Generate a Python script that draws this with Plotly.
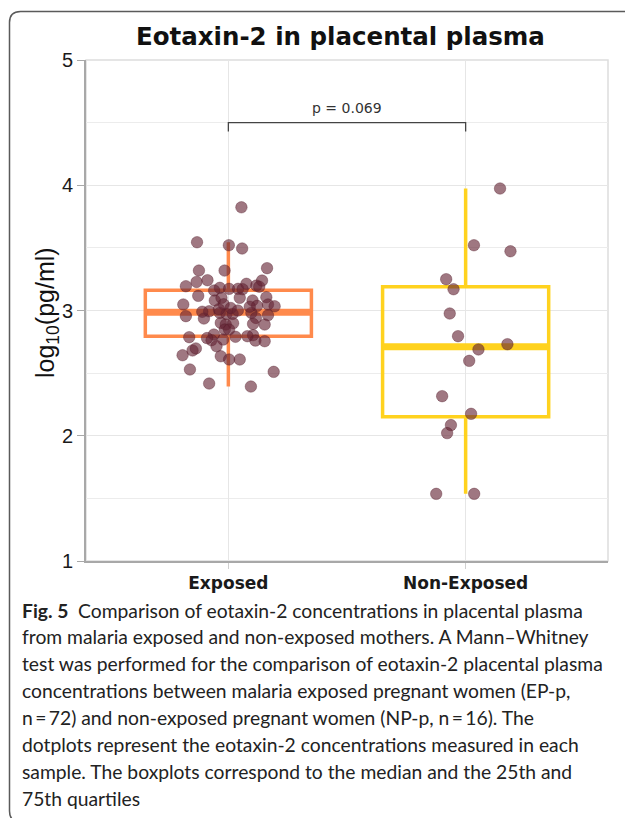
import numpy as np
import plotly.graph_objects as go

# ---------------- data ----------------
categories = ["Exposed", "Non-Exposed"]
category_pos = [0, 1]

exposed_values = [
    3.824, 3.545, 3.521, 3.495, 3.319, 3.319, 3.338, 3.194, 3.228, 3.242,
    3.181, 3.173, 3.173, 3.213, 3.199, 3.239, 3.117, 3.048, 3.080, 3.101,
    3.101, 3.080, 3.106, 3.037, 3.048, 3.034, 2.955, 2.936, 2.994, 2.981,
    2.973, 2.973, 2.981, 2.941, 2.962, 2.901, 2.888, 2.898, 2.893, 2.888,
    2.848, 2.848, 2.787, 2.808, 2.763, 2.768, 2.803, 2.760, 2.755, 2.715,
    2.681, 2.697, 2.643, 2.635, 2.609, 2.609, 2.529, 2.510, 2.417, 2.393,
    3.170, 3.160, 3.190, 2.790, 2.780, 2.795, 3.050, 3.020, 3.010, 3.030,
    2.990, 3.000,
]
exposed_jitter = [
    0.055, -0.132, 0.002, 0.058, -0.124, -0.016, 0.163, -0.179, -0.134, -0.088,
    -0.036, 0.003, 0.041, 0.076, 0.118, 0.142, -0.127, -0.190, -0.057, -0.029,
    0.048, 0.102, 0.160, 0.121, 0.167, 0.195, -0.179, -0.103, -0.081, -0.036,
    -0.008, 0.018, 0.097, 0.116, 0.167, -0.032, -0.011, 0.020, 0.104, 0.153,
    -0.015, 0.003, -0.165, -0.061, -0.071, -0.022, 0.104, 0.114, 0.153, -0.050,
    -0.151, -0.137, -0.193, -0.032, 0.003, 0.048, -0.162, 0.191, -0.081, 0.095,
    0.060, -0.060, 0.130, 0.030, -0.090, 0.080, -0.020, 0.010, -0.040, 0.090,
    -0.110, 0.040,
]

nonexposed_values = [
    3.974, 3.521, 3.473, 3.250, 3.170, 2.976, 2.795, 2.731, 2.689, 2.598,
    2.316, 2.175, 2.085, 2.021, 1.536, 1.536,
]
nonexposed_jitter = [
    0.145, 0.035, 0.189, -0.082, -0.051, -0.067, -0.032, 0.176, 0.054, 0.015,
    -0.099, 0.023, -0.062, -0.078, -0.124, 0.036,
]

y_ticks = [1, 2, 3, 4, 5]
p_label = "p = 0.069"
title_text = "Eotaxin-2 in placental plasma"
caption_lines = [
    "<b>Fig. 5</b>\u2002Comparison of eotaxin-2 concentrations in placental plasma",
    "from malaria exposed and non-exposed mothers. A Mann\u2013Whitney",
    "test was performed for the comparison of eotaxin-2 placental plasma",
    "concentrations between malaria exposed pregnant women (EP-p,",
    "n\u2009=\u200972) and non-exposed pregnant women (NP-p, n\u2009=\u200916). The",
    "dotplots represent the eotaxin-2 concentrations measured in each",
    "sample. The boxplots correspond to the median and the 25th and",
    "75th quartiles",
]

# ---------------- geometry helpers ----------------
W_FIG, H_FIG = 625, 818
L, R, T, B = 86, 608, 60, 561
PW, PH = R - L, B - T


def fx(px):
    return (px - L) / PW


def fy(py):
    return (B - py) / PH


def box_stats(vals):
    a = np.asarray(vals, dtype=float)
    q1, med, q3 = np.percentile(a, [25, 50, 75])
    iqr = q3 - q1
    lo = a[a >= q1 - 1.5 * iqr].min()
    hi = a[a <= q3 + 1.5 * iqr].max()
    return float(q1), float(med), float(q3), float(lo), float(hi)


BOX_W = 0.70
colors = ["#FF8A4C", "#FFD21E"]
point_color = "rgba(100,35,52,0.62)"

groups = [exposed_values, nonexposed_values]
jitters = [exposed_jitter, nonexposed_jitter]

fig = go.Figure()

for i, (vals, col) in enumerate(zip(groups, colors)):
    q1, med, q3, lo, hi = box_stats(vals)
    fig.add_trace(go.Box(
        x=[category_pos[i]], q1=[q1], median=[med], q3=[q3],
        lowerfence=[lo], upperfence=[hi], name=categories[i],
        boxpoints=False, width=BOX_W, fillcolor="rgba(0,0,0,0)",
        line=dict(color=col, width=3.5), whiskerwidth=0,
        showlegend=False, hoverinfo="skip",
    ))
    fig.add_trace(go.Scatter(
        x=[category_pos[i] - BOX_W / 2, category_pos[i] + BOX_W / 2], y=[med, med],
        mode="lines", line=dict(color=col, width=7), showlegend=False, hoverinfo="skip",
    ))

for i, (vals, jit) in enumerate(zip(groups, jitters)):
    fig.add_trace(go.Scatter(
        x=[category_pos[i] + j for j in jit], y=vals, mode="markers",
        marker=dict(size=11.5, color=point_color, line=dict(width=0.8, color="rgba(80,25,40,0.45)")),
        showlegend=False, hoverinfo="skip",
    ))

# significance bracket
fig.add_shape(type="path", xref="x", yref="y",
              path="M 0,4.43 L 0,4.5 L 1,4.5 L 1,4.43",
              line=dict(color="#444444", width=1.3))
fig.add_annotation(x=0.5, y=4.5, xref="x", yref="y", text=p_label, showarrow=False,
                   yanchor="bottom", yshift=5,
                   font=dict(family="DejaVu Sans", size=14, color="#333333"))

# plot border (light) rectangle
fig.add_shape(type="rect", xref="paper", yref="paper", x0=0, x1=1, y0=0, y1=1,
              line=dict(color="#dddddd", width=1.5), layer="below")

# outer frame with rounded corners
fl, ft, fb, fr, rad = 9.5, 11.5, 822, 640, 11
frame_path = (f"M {fx(fr)},{fy(ft)} L {fx(fl + rad)},{fy(ft)} "
              f"Q {fx(fl)},{fy(ft)} {fx(fl)},{fy(ft + rad)} "
              f"L {fx(fl)},{fy(fb - rad)} Q {fx(fl)},{fy(fb)} {fx(fl + rad)},{fy(fb)}")
fig.add_shape(type="path", xref="paper", yref="paper", path=frame_path,
              line=dict(color="#5a5a5a", width=1.5))

# title
fig.add_annotation(x=fx(340), y=fy(37), xref="paper", yref="paper", text=f"<b>{title_text}</b>",
                   showarrow=False, xanchor="center", yanchor="middle",
                   font=dict(family="DejaVu Sans", size=24.5, color="#111111"))

# y-axis title
fig.add_annotation(x=fx(47), y=fy(313), xref="paper", yref="paper",
                   text="log<sub>10</sub>(pg/ml)", textangle=-90, showarrow=False,
                   xanchor="center", yanchor="middle",
                   font=dict(family="Liberation Sans", size=25, color="#111111"))

# caption
for k, line in enumerate(caption_lines):
    fig.add_annotation(x=fx(20), y=fy(610 + 26.86 * k), xref="paper", yref="paper",
                       text=line, showarrow=False, xanchor="left", yanchor="middle",
                       font=dict(family="Lato", size=19.3, color="#222222"))

fig.update_layout(
    width=W_FIG, height=H_FIG, autosize=False,
    margin=dict(l=L, r=W_FIG - R, t=T, b=H_FIG - B, pad=0),
    paper_bgcolor="white", plot_bgcolor="white",
    xaxis=dict(range=[-0.6, 1.6], tickvals=category_pos, ticktext=[f"<b>{c}</b>" for c in categories],
               showgrid=True, gridcolor="#e6e6e6", gridwidth=1, zeroline=False,
               showline=True, linecolor="#a8a8a8", linewidth=2,
               ticks="outside", ticklen=6, tickcolor="#d0d0d0",
               tickfont=dict(family="DejaVu Sans", size=17, color="#1a1a1a")),
    yaxis=dict(range=[1, 5], tickvals=y_ticks, showgrid=True, gridcolor="#e6e6e6", gridwidth=1,
               zeroline=False, showline=True, linecolor="#a8a8a8", linewidth=2,
               ticks="outside", ticklen=7, tickcolor="#a8a8a8",
               minor=dict(dtick=0.5, showgrid=True, gridcolor="#ececec", ticks=""),
               tickfont=dict(family="Liberation Sans", size=20, color="#1a1a1a")),
)

fig.write_html("out.html")
